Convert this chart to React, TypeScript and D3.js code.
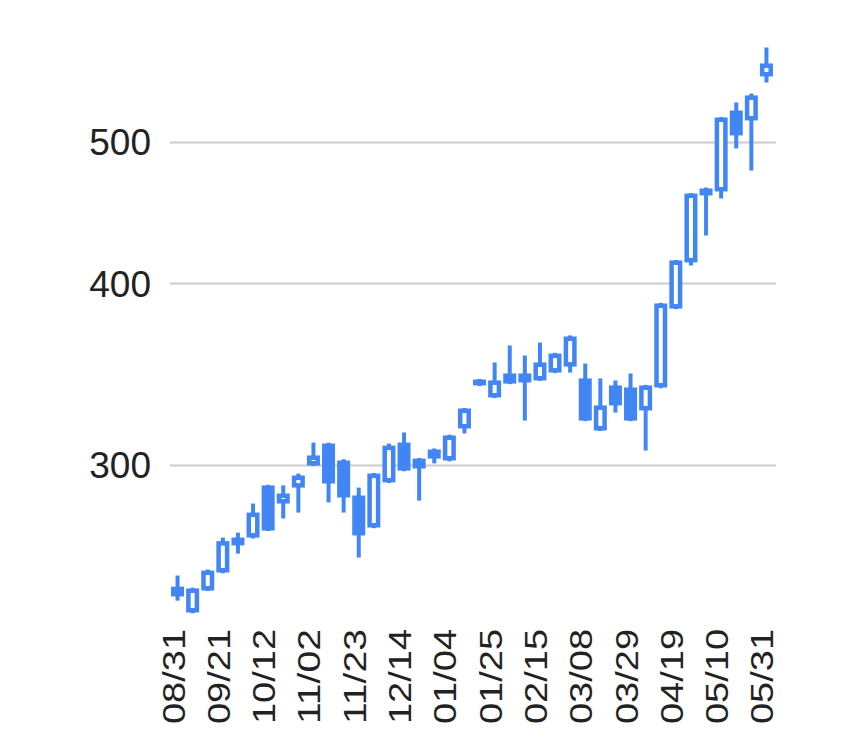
import React from 'react';
import * as d3 from 'd3';

const weeks = [
  '08/31', '09/07', '09/14', '09/21', '09/28', '10/05', '10/12', '10/19', '10/26', '11/02',
  '11/09', '11/16', '11/23', '11/30', '12/07', '12/14', '12/21', '12/28', '01/04', '01/11',
  '01/18', '01/25', '02/01', '02/08', '02/15', '02/22', '03/01', '03/08', '03/15', '03/22',
  '03/29', '04/05', '04/12', '04/19', '04/26', '05/03', '05/10', '05/17', '05/24', '05/31',
];

const opens = [
  247.7, 237.8, 246.2, 253.3, 267.7, 267.7, 290.7, 282.5, 289.7, 300.0,
  310.6, 302.4, 286.1, 272.0, 292.1, 311.1, 303.3, 307.7, 302.4, 318.1,
  343.7, 334.1, 347.0, 342.1, 343.2, 347.5, 350.8, 344.3, 317.1, 340.5,
  339.4, 327.3, 339.4, 384.5, 413.6, 464.9, 462.7, 525.9, 517.7, 555.0,
];
const highs = [
  252.1, 247.3, 254.5, 267.7, 269.8, 282.5, 291.0, 290.7, 296.2, 311.1,
  311.0, 303.0, 289.7, 296.5, 310.6, 316.1, 303.6, 308.2, 315.0, 328.6,
  344.0, 353.1, 362.7, 357.0, 364.4, 358.5, 368.5, 352.5, 344.3, 343.2,
  347.0, 340.8, 388.0, 415.2, 461.5, 465.6, 520.5, 532.6, 540.2, 581.0,
];
const lows = [
  242.3, 237.5, 246.0, 253.0, 261.0, 267.3, 270.5, 275.9, 278.5, 299.8,
  283.0, 278.5, 259.4, 271.7, 291.8, 297.3, 283.8, 301.0, 302.0, 315.6,
  340.2, 333.8, 341.2, 322.1, 343.0, 347.2, 347.5, 321.8, 316.8, 326.2,
  321.8, 307.2, 339.0, 384.2, 411.6, 431.6, 457.6, 495.3, 478.3, 549.7,
];
const closes = [
  243.9, 247.0, 254.1, 266.2, 264.4, 278.5, 270.7, 287.0, 295.3, 304.8,
  291.6, 285.2, 268.6, 296.2, 309.6, 297.6, 298.6, 303.3, 314.6, 328.3,
  340.5, 343.2, 341.5, 347.0, 353.1, 358.1, 367.9, 322.1, 329.9, 329.9,
  322.1, 340.5, 387.6, 414.9, 461.2, 459.8, 520.1, 505.6, 538.6, 566.5,
];

const yTicks = [300, 400, 500];
const labelEvery = 3;

const W = 844;
const H = 746;
const COLOR = '#4285f4';
const STROKE = 4.5;
const WICK = 4;

export default function App() {
  const x = d3.scaleBand<string>().domain(weeks).range([170, 774]).padding(0);
  const y = d3.scaleLog().domain([231.3, 597.3]).range([630, 30]);
  const bw = x.bandwidth();
  const bodyW = 13;

  const candles = weeks.map((w, i) => ({
    w,
    o: opens[i],
    h: highs[i],
    l: lows[i],
    c: closes[i],
  }));

  return (
    <svg
      width={W}
      height={H}
      style={{ position: 'absolute', left: 0, top: 0, display: 'block', background: '#fff' }}
      fontFamily="'Liberation Sans', Arial, sans-serif"
    >
      <rect x={0} y={0} width={W} height={H} fill="#fff" />
      {yTicks.map((t) => (
        <g key={t}>
          <line x1={170} x2={776} y1={y(t)} y2={y(t)} stroke="#cccccc" strokeWidth={2} />
          <text x={151} y={y(t)} dy="0.35em" textAnchor="end" fontSize={37} fill="#222">
            {t}
          </text>
        </g>
      ))}
      {candles.map((d) => {
        const cx = (x(d.w) as number) + bw / 2;
        const rising = d.c >= d.o;
        const top = y(Math.max(d.o, d.c));
        const bot = y(Math.min(d.o, d.c));
        const inset = STROKE / 2;
        const rh = Math.max(0, bot - top - STROKE);
        return (
          <g key={d.w}>
            <line x1={cx} x2={cx} y1={y(d.h)} y2={y(d.l)} stroke={COLOR} strokeWidth={WICK} />
            <rect
              x={cx - bodyW / 2 + inset}
              y={top + inset}
              width={bodyW - STROKE}
              height={rh}
              fill={rising ? '#ffffff' : COLOR}
              stroke={COLOR}
              strokeWidth={STROKE}
            />
          </g>
        );
      })}
      {weeks.map((w, i) =>
        i % labelEvery === 0 ? (
          <text
            key={w}
            transform={`translate(${(x(w) as number) + bw / 2 + 7},724) rotate(-90)`}
            textAnchor="start"
            fontSize={32}
            fill="#222"
            textLength={95}
            lengthAdjust="spacingAndGlyphs"
          >
            {w}
          </text>
        ) : null
      )}
    </svg>
  );
}
